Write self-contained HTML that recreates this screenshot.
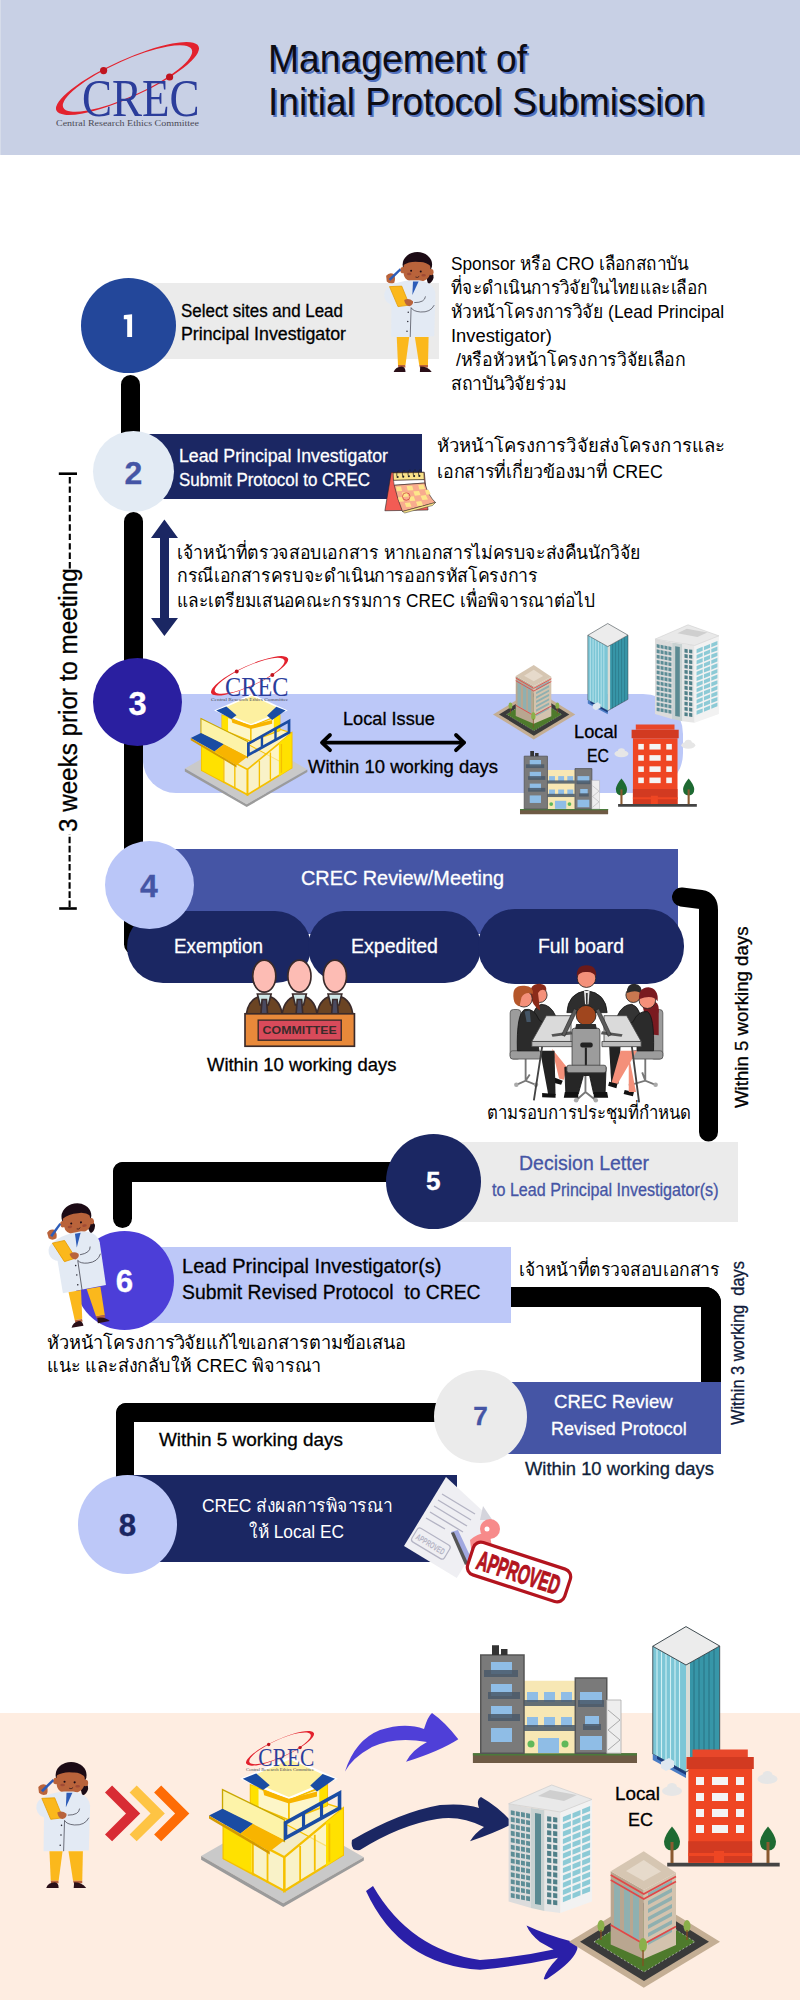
<!DOCTYPE html>
<html><head><meta charset="utf-8">
<style>
*{margin:0;padding:0;box-sizing:border-box}
html,body{width:800px;height:2000px;overflow:hidden;background:#fff}
body{position:relative;font-family:"Liberation Sans",sans-serif;color:#000}
.a{position:absolute}
.c{position:absolute;border-radius:50%}
.t{position:absolute;white-space:pre;transform-origin:0 0;-webkit-text-stroke:0.3px currentColor}
.bl{position:absolute;background:#000}
svg.s{position:absolute;overflow:visible}
</style></head><body>
<svg width="0" height="0" style="position:absolute">
<defs>
<symbol id="logo" viewBox="0 0 145 92" overflow="visible">
  <path fill="#e3222e" fill-rule="evenodd" transform="rotate(-24.3 71.5 38.5)" d="M-6.5 38.5 a78 18.9 0 1 0 156 0 a78 18.9 0 1 0 -156 0 Z M1 38.5 a70.5 17.9 0 1 0 141 0 a70.5 17.9 0 1 0 -141 0 Z"/>
  <text x="26" y="76" font-family="Liberation Serif" font-size="52" fill="#2b3d9b" textLength="117.6" lengthAdjust="spacingAndGlyphs">CREC</text>
  <circle cx="47.6" cy="30.6" r="3.6" fill="#c0141f"/>
  <circle cx="113.6" cy="37" r="3.6" fill="#c0141f"/>
  <text x="0" y="86" font-family="Liberation Serif" font-size="9" fill="#4a4a55" textLength="143" lengthAdjust="spacingAndGlyphs">Central Research Ethics Committee</text>
</symbol>
<symbol id="doc" viewBox="180 95 425 965" overflow="visible">
  <path d="M500 230 Q600 260 585 300 Q575 340 540 350 L525 290 Z" fill="#1c0b15"/>
  <ellipse cx="455" cy="195" rx="118" ry="100" fill="#1c0b15"/>
  <ellipse cx="340" cy="240" rx="22" ry="25" fill="#b9633b"/>
  <ellipse cx="565" cy="255" rx="20" ry="25" fill="#b9633b"/>
  <path d="M345 205 Q350 140 455 150 Q560 150 560 230 Q565 330 455 335 Q345 335 345 260 Z" fill="#b9633b"/>
  <path d="M340 200 Q360 120 455 120 Q560 120 570 215 Q520 170 470 175 Q400 165 340 200 Z" fill="#1c0b15"/>
  <circle cx="405" cy="245" r="8" fill="#1c0b15"/><circle cx="482" cy="250" r="8" fill="#1c0b15"/>
  <ellipse cx="390" cy="270" rx="18" ry="10" fill="#a04a35"/><ellipse cx="505" cy="280" rx="18" ry="10" fill="#a04a35"/>
  <path d="M440 295 Q455 305 470 290" stroke="#1c0b15" stroke-width="5" fill="none"/>
  <path d="M250 360 Q300 330 400 320 L470 320 Q590 340 600 430 L590 770 L245 775 Z" fill="#e3eaf4"/>
  <path d="M250 360 Q185 390 190 450 Q200 510 260 520 L300 470 Z" fill="#e3eaf4"/>
  <path d="M420 330 L465 330 L415 440 Z" fill="#2d5cb8"/>
  <path d="M205 285 Q230 255 265 270 Q285 300 270 340 Q235 355 210 330 Z" fill="#b9633b"/>
  <path d="M225 310 L315 225 L325 240 L240 325 Z" fill="#2d5cb8"/>
  <path d="M232 372 L330 368 L392 520 L300 532 Z" fill="#fbb81c" stroke="#e49a00" stroke-width="6"/>
  <path d="M350 480 Q385 460 420 490 Q425 520 390 530 Q355 525 350 480 Z" fill="#b9633b"/>
  <path d="M520 450 Q515 500 430 500 M590 520 Q560 580 480 575 Q420 570 405 540" stroke="#2a2a35" stroke-width="5" fill="none"/>
  <path d="M405 540 L398 775" stroke="#2a2a35" stroke-width="5"/>
  <circle cx="382" cy="578" r="6" fill="#2a2a35"/><circle cx="378" cy="652" r="6" fill="#2a2a35"/><circle cx="372" cy="730" r="6" fill="#2a2a35"/>
  <path d="M290 775 L390 775 L360 1000 L300 1000 Z" fill="#fbb81c"/>
  <path d="M435 775 L545 775 L540 1000 L470 1000 Z" fill="#fbb81c"/>
  <path d="M300 1000 L358 1000 L360 1020 L302 1020 Z M470 1000 L540 1000 L540 1020 L475 1020 Z" fill="#b9633b"/>
  <path d="M265 1055 Q280 1015 330 1012 Q360 1015 360 1055 Z" fill="#2a0f18"/>
  <path d="M475 1055 L478 1012 Q540 1012 570 1055 Z" fill="#2a0f18"/>
</symbol>
<symbol id="bldg" viewBox="0 165 730 655" overflow="visible">
  <path d="M5 605 L363 400 L728 610 L370 815 Z" fill="#c9c9c9"/>
  <path d="M5 605 L370 815 L728 610 L728 625 L370 832 L5 622 Z" fill="#9b9b9b"/>
  <path d="M105 615 L365 455 L635 600 L375 760 Z" fill="#f3ecc8"/>
  <path d="M105 615 L365 455 L365 310 L105 470 Z" fill="#fbf1b8" stroke="#f5c000" stroke-width="6"/>
  <path d="M365 455 L635 600 L635 395 L365 310 Z" fill="#fdf3c0" stroke="#f5c000" stroke-width="6"/>
  <path d="M105 470 L375 610 L375 760 L105 615 Z" fill="#fdf6c8" fill-opacity="0.6" stroke="#f5c000" stroke-width="10"/>
  <path d="M375 610 L635 395 L635 600 L375 760 Z" fill="#fdf6c8" fill-opacity="0.6" stroke="#f5c000" stroke-width="10"/>
  <path d="M105 470 L230 530 L230 680 L105 615 Z" fill="#ffe100"/>
  <path d="M560 455 L635 395 L635 600 L560 650 Z" fill="#ffe100"/>
  <path d="M235 540 L235 690 M300 575 L300 725 M445 560 L445 715 M510 510 L510 670 M575 460 L575 630" stroke="#f5c000" stroke-width="8"/>
  <path d="M225 290 L395 355 L395 445 L225 375 Z" fill="#fdf6c8" stroke="#f5c000" stroke-width="8"/>
  <path d="M395 355 L565 290 L565 380 L395 445 Z" fill="#fdf6c8" stroke="#f5c000" stroke-width="8"/>
  <path d="M225 290 L260 300 L260 390 L225 375 Z M530 300 L565 290 L565 380 L530 395 Z" fill="#ffe100"/>
  <path d="M190 262 L400 170 L600 262 L395 348 Z" fill="#fdf0a0" stroke="#ffffff" stroke-width="10"/>
  <path d="M190 262 L250 238 L310 290 L280 312 Z" fill="#1a4ca3"/>
  <path d="M490 292 L545 240 L600 262 L520 318 Z" fill="#1a4ca3"/>
  <path d="M280 312 L395 350 L395 372 L285 335 Z" fill="#f8b400"/>
  <path d="M395 350 L520 318 L520 340 L395 372 Z" fill="#f8b400"/>
  <path d="M100 310 L375 445 L375 540 L100 400 Z" fill="#fdf3a8" stroke="#c9a700" stroke-width="6"/>
  <path d="M40 425 L100 395 L235 462 L180 505 Z" fill="#1a4ca3"/>
  <path d="M180 505 L235 462 L375 535 L310 585 Z" fill="#f8b400"/>
  <path d="M40 425 L310 585 L310 598 L40 438 Z" fill="#d49a00"/>
  <path d="M380 458 L620 325 L620 392 L380 525 Z" fill="none" stroke="#1a4ca3" stroke-width="16"/>
  <path d="M460 415 L460 480 M540 370 L540 438" stroke="#1a4ca3" stroke-width="14"/>
</symbol>
</defs></svg>
<div class="a" style="left:0;top:0;width:800px;height:155px;background:#c8d0e5"></div>
<div class="a" style="left:0;top:0;width:1px;height:155px;background:#d6dcea"></div>
<svg class="s" style="left:56px;top:40px" width="145" height="92"><use href="#logo"/></svg>
<div class="t" style="left:268.0px;top:37.1px;font-size:38.52px;line-height:43.02px;color:#0d0d14;font-weight:normal;font-family:'Liberation Sans',sans-serif;transform:scaleX(0.9677);text-shadow:1.8px 2px 0 #5272c0;-webkit-text-stroke:0">Management of</div>
<div class="t" style="left:268.0px;top:80.1px;font-size:38.52px;line-height:43.02px;color:#0d0d14;font-weight:normal;font-family:'Liberation Sans',sans-serif;transform:scaleX(0.9674);text-shadow:1.8px 2px 0 #5272c0;-webkit-text-stroke:0">Initial Protocol Submission</div>
<div class="a" style="left:128px;top:283px;width:311px;height:76px;background:#ebebeb"></div>
<div class="c" style="left:81px;top:278px;width:95px;height:95px;background:#23479a"></div>
<svg class="s" style="left:0;top:0" width="200" height="400"><path d="M123.8 315.6 Q124 315.2 124.6 315.1 L132.1 314.2 L132.1 336.9 L127.2 336.9 L127.2 319.3 L123.8 319.3 Z" fill="#fff"/></svg>
<div class="t" style="left:181.0px;top:301.7px;font-size:17.44px;line-height:19.48px;color:#000;font-weight:normal;font-family:'Liberation Sans',sans-serif;transform:scaleX(0.9713);">Select sites and Lead</div>
<div class="t" style="left:181.0px;top:325.2px;font-size:17.44px;line-height:19.48px;color:#000;font-weight:normal;font-family:'Liberation Sans',sans-serif;transform:scaleX(1.0191);">Principal Investigator</div>
<svg class="s" style="left:382.5px;top:251.9px" width="53.1" height="120.6"><use href="#doc"/></svg>
<div class="t" style="left:450.5px;top:254.0px;font-size:18.29px;line-height:20.43px;color:#000;transform:scaleX(0.9433);-webkit-text-stroke:0;">Sponsor หรือ CRO เลือกสถาบัน</div>
<div class="t" style="left:450.5px;top:278.0px;font-size:18.29px;line-height:20.43px;color:#000;transform:scaleX(0.9387);-webkit-text-stroke:0;">ที่จะดำเนินการวิจัยในไทยและเลือก</div>
<div class="t" style="left:450.5px;top:302.0px;font-size:18.29px;line-height:20.43px;color:#000;transform:scaleX(0.9517);-webkit-text-stroke:0;">หัวหน้าโครงการวิจัย (Lead Principal</div>
<div class="t" style="left:450.5px;top:326.0px;font-size:18.29px;line-height:20.43px;color:#000;transform:scaleX(1.0037);-webkit-text-stroke:0;">Investigator)</div>
<div class="t" style="left:450.5px;top:350.0px;font-size:18.29px;line-height:20.43px;color:#000;transform:scaleX(0.9693);-webkit-text-stroke:0;"> /หรือหัวหน้าโครงการวิจัยเลือก</div>
<div class="t" style="left:450.5px;top:374.0px;font-size:18.29px;line-height:20.43px;color:#000;transform:scaleX(0.9619);-webkit-text-stroke:0;">สถาบันวิจัยร่วม</div>
<div class="bl" style="left:121px;top:375px;width:19px;height:70px;border-radius:10px 10px 0 0"></div>
<div class="a" style="left:133px;top:434px;width:289px;height:65px;background:#1b2763"></div>
<div class="c" style="left:93px;top:431px;width:81px;height:81px;background:#e3ebf4"></div>
<div class="t" style="left:124.6px;top:456.1px;font-size:31.98px;line-height:35.72px;color:#4555a5;font-weight:bold;font-family:'Liberation Sans',sans-serif;transform:scaleX(1.0000);">2</div>
<div class="t" style="left:179.0px;top:444.5px;font-size:18.90px;line-height:21.11px;color:#fff;font-weight:normal;font-family:'Liberation Sans',sans-serif;transform:scaleX(0.9386);">Lead Principal Investigator</div>
<div class="t" style="left:179.0px;top:469.2px;font-size:18.90px;line-height:21.11px;color:#fff;font-weight:normal;font-family:'Liberation Sans',sans-serif;transform:scaleX(0.8960);">Submit Protocol to CREC</div>
<div class="t" style="left:436.7px;top:436.4px;font-size:18.29px;line-height:20.43px;color:#000;transform:scaleX(1.0112);-webkit-text-stroke:0;">หัวหน้าโครงการวิจัยส่งโครงการและ</div>
<div class="t" style="left:436.7px;top:462.1px;font-size:18.29px;line-height:20.43px;color:#000;transform:scaleX(0.9740);-webkit-text-stroke:0;">เอกสารที่เกี่ยวข้องมาที่ CREC</div>
<div class="bl" style="left:124px;top:512px;width:19px;height:442px;border-radius:10px 10px 0 10px"></div>
<div class="t" style="left:177.0px;top:543.4px;font-size:18.29px;line-height:20.43px;color:#000;transform:scaleX(0.9647);-webkit-text-stroke:0;">เจ้าหน้าที่ตรวจสอบเอกสาร หากเอกสารไม่ครบจะส่งคืนนักวิจัย</div>
<div class="t" style="left:177.0px;top:566.4px;font-size:18.29px;line-height:20.43px;color:#000;transform:scaleX(0.9665);-webkit-text-stroke:0;">กรณีเอกสารครบจะดำเนินการออกรหัสโครงการ</div>
<div class="t" style="left:177.0px;top:591.4px;font-size:18.29px;line-height:20.43px;color:#000;transform:scaleX(0.9461);-webkit-text-stroke:0;">และเตรียมเสนอคณะกรรมการ CREC เพื่อพิจารณาต่อไป</div>
<div class="t" style="left:54.0px;top:832.4px;font-size:25.44px;line-height:28.41px;color:#000;transform-origin:0 0;transform:rotate(-90deg) scaleX(0.9513);">3 weeks prior to meeting</div>
<svg class="s" style="left:0;top:0" width="100" height="1000"><g fill="#000"><rect x="58.8" y="472.4" width="18.2" height="2.6"/><rect x="59.2" y="907.2" width="17.6" height="2.6"/></g><path d="M69.8 477 V569" stroke="#000" stroke-width="2.1" stroke-dasharray="6.4 3.05"/><path d="M69.6 907 V834" stroke="#000" stroke-width="2.1" stroke-dasharray="6.6 2.5"/></svg>
<div class="a" style="left:143px;top:694px;width:540px;height:99px;background:#bcc8f8;border-radius:0 40px 40px 33px"></div>
<div class="c" style="left:93px;top:658px;width:89px;height:88px;background:#2a1fa0"></div>
<div class="t" style="left:128.4px;top:685.7px;font-size:32.70px;line-height:36.53px;color:#fff;font-weight:bold;font-family:'Liberation Sans',sans-serif;transform:scaleX(1.0000);">3</div>
<svg class="s" style="left:184.4px;top:694.4px" width="123.7" height="111"><use href="#bldg"/></svg>
<svg class="s" style="left:211.4px;top:655px" width="78.3" height="49.7"><use href="#logo"/></svg>
<div class="t" style="left:342.6px;top:709.2px;font-size:18.60px;line-height:20.78px;color:#000;font-weight:normal;font-family:'Liberation Sans',sans-serif;transform:scaleX(0.9775);">Local Issue</div>
<div class="t" style="left:308.0px;top:758.2px;font-size:17.44px;line-height:19.48px;color:#000;font-weight:normal;font-family:'Liberation Sans',sans-serif;transform:scaleX(1.0594);">Within 10 working days</div>
<div class="t" style="left:574.0px;top:720.9px;font-size:18.90px;line-height:21.11px;color:#000;font-weight:normal;font-family:'Liberation Sans',sans-serif;transform:scaleX(0.9652);">Local</div>
<div class="t" style="left:587.0px;top:744.9px;font-size:18.90px;line-height:21.11px;color:#000;font-weight:normal;font-family:'Liberation Sans',sans-serif;transform:scaleX(0.8381);">EC</div>
<div class="a" style="left:149px;top:849px;width:529px;height:85px;background:#4555a5"></div>
<div class="a" style="left:127px;top:911px;width:184px;height:72px;background:#1b2763;border-radius:36px"></div>
<div class="a" style="left:308px;top:911px;width:173px;height:72px;background:#1b2763;border-radius:36px"></div>
<div class="a" style="left:478px;top:909px;width:206px;height:75px;background:#1b2763;border-radius:37px"></div>
<div class="c" style="left:105px;top:841px;width:89px;height:88px;background:#bac6f8"></div>
<div class="t" style="left:140.1px;top:868.6px;font-size:31.98px;line-height:35.72px;color:#4555a5;font-weight:bold;font-family:'Liberation Sans',sans-serif;transform:scaleX(1.0000);">4</div>
<div class="t" style="left:301.0px;top:867.8px;font-size:19.33px;line-height:21.59px;color:#fff;font-weight:normal;font-family:'Liberation Sans',sans-serif;transform:scaleX(1.0269);">CREC Review/Meeting</div>
<div class="t" style="left:174.0px;top:934.6px;font-size:20.35px;line-height:22.73px;color:#fff;font-weight:normal;font-family:'Liberation Sans',sans-serif;transform:scaleX(0.9257);">Exemption</div>
<div class="t" style="left:351.0px;top:934.6px;font-size:20.35px;line-height:22.73px;color:#fff;font-weight:normal;font-family:'Liberation Sans',sans-serif;transform:scaleX(0.9612);">Expedited</div>
<div class="t" style="left:538.0px;top:934.6px;font-size:20.35px;line-height:22.73px;color:#fff;font-weight:normal;font-family:'Liberation Sans',sans-serif;transform:scaleX(0.9504);">Full board</div>
<div class="t" style="left:206.5px;top:1055.4px;font-size:18.17px;line-height:20.29px;color:#000;font-weight:normal;font-family:'Liberation Sans',sans-serif;transform:scaleX(1.0144);">Within 10 working days</div>
<div class="t" style="left:487.0px;top:1102.9px;font-size:18.29px;line-height:20.43px;color:#000;transform:scaleX(0.9164);-webkit-text-stroke:0;">ตามรอบการประชุมที่กำหนด</div>
<div class="t" style="left:730.9px;top:1108.0px;font-size:18.90px;line-height:21.11px;color:#000;transform-origin:0 0;transform:rotate(-90deg) scaleX(0.9881);">Within 5 working days</div>
<div class="bl" style="left:113px;top:1162px;width:19px;height:66px;border-radius:10px"></div>
<div class="bl" style="left:113px;top:1162px;width:320px;height:20px;border-radius:10px 0 0 0"></div>
<svg class="s" style="left:0;top:0" width="800" height="1200"><path d="M681.5 897 L701 899.5 Q708.5 900.5 708.5 910 L708.5 1132" stroke="#000" stroke-width="19" fill="none" stroke-linecap="round" stroke-linejoin="round"/></svg>
<div class="a" style="left:433px;top:1142px;width:305px;height:80px;background:#ebebeb"></div>
<div class="c" style="left:386px;top:1134px;width:95px;height:95px;background:#1b2763"></div>
<div class="t" style="left:425.9px;top:1166.8px;font-size:26.16px;line-height:29.22px;color:#fff;font-weight:bold;font-family:'Liberation Sans',sans-serif;transform:scaleX(1.0000);">5</div>
<div class="t" style="left:519.0px;top:1151.9px;font-size:20.35px;line-height:22.73px;color:#4555a5;font-weight:normal;font-family:'Liberation Sans',sans-serif;transform:scaleX(0.9578);">Decision Letter</div>
<div class="t" style="left:492.3px;top:1180.5px;font-size:17.44px;line-height:19.48px;color:#4555a5;font-weight:normal;font-family:'Liberation Sans',sans-serif;transform:scaleX(0.9238);">to Lead Principal Investigator(s)</div>
<div class="bl" style="left:480px;top:1287px;width:241px;height:20px;border-radius:0 16px 0 0"></div>
<div class="bl" style="left:701px;top:1287px;width:20px;height:100px;border-radius:0 16px 0 0"></div>
<div class="a" style="left:124px;top:1247px;width:387px;height:76px;background:#bdc8f8"></div>
<div class="c" style="left:75px;top:1231px;width:99px;height:99px;background:#4c3ed8"></div>
<div class="t" style="left:115.8px;top:1264.7px;font-size:31.25px;line-height:34.91px;color:#fff;font-weight:bold;font-family:'Liberation Sans',sans-serif;transform:scaleX(1.0000);">6</div>
<div class="t" style="left:181.5px;top:1253.6px;font-size:21.08px;line-height:23.54px;color:#000;font-weight:normal;font-family:'Liberation Sans',sans-serif;transform:scaleX(0.9507);">Lead Principal Investigator(s)</div>
<div class="t" style="left:181.5px;top:1280.4px;font-size:21.08px;line-height:23.54px;color:#000;font-weight:normal;font-family:'Liberation Sans',sans-serif;transform:scaleX(0.9167);">Submit Revised Protocol  to CREC</div>
<svg class="s" style="left:49.5px;top:1203.5px;transform:rotate(-10deg);transform-origin:50% 50%" width="54" height="122.6"><use href="#doc"/></svg>
<div class="t" style="left:47.0px;top:1332.9px;font-size:18.29px;line-height:20.43px;color:#000;transform:scaleX(0.9963);-webkit-text-stroke:0;">หัวหน้าโครงการวิจัยแก้ไขเอกสารตามข้อเสนอ</div>
<div class="t" style="left:47.0px;top:1355.7px;font-size:18.29px;line-height:20.43px;color:#000;transform:scaleX(0.9823);-webkit-text-stroke:0;">แนะ และส่งกลับให้ CREC พิจารณา</div>
<div class="t" style="left:519.0px;top:1260.2px;font-size:18.29px;line-height:20.43px;color:#000;transform:scaleX(0.9600);-webkit-text-stroke:0;">เจ้าหน้าที่ตรวจสอบเอกสาร</div>
<div class="t" style="left:729.2px;top:1425.0px;font-size:17.44px;line-height:19.48px;color:#0f1a3a;transform-origin:0 0;transform:rotate(-90deg) scaleX(0.9399);">Within 3 working  days</div>
<div class="bl" style="left:116px;top:1403px;width:330px;height:19px;border-radius:10px 0 0 0"></div>
<div class="bl" style="left:116px;top:1403px;width:18px;height:80px;border-radius:10px 0 0 0"></div>
<div class="a" style="left:480px;top:1382px;width:241px;height:72px;background:#4555a5"></div>
<div class="c" style="left:434px;top:1370px;width:93px;height:93px;background:#ebebeb"></div>
<div class="t" style="left:473.2px;top:1401.6px;font-size:26.16px;line-height:29.22px;color:#4555a5;font-weight:bold;font-family:'Liberation Sans',sans-serif;transform:scaleX(1.0000);">7</div>
<div class="t" style="left:553.8px;top:1391.3px;font-size:19.26px;line-height:21.51px;color:#fff;font-weight:normal;font-family:'Liberation Sans',sans-serif;transform:scaleX(0.9649);">CREC Review</div>
<div class="t" style="left:551.2px;top:1418.1px;font-size:19.26px;line-height:21.51px;color:#fff;font-weight:normal;font-family:'Liberation Sans',sans-serif;transform:scaleX(0.9325);">Revised Protocol</div>
<div class="t" style="left:524.5px;top:1458.6px;font-size:18.17px;line-height:20.29px;color:#0f1f3a;font-weight:normal;font-family:'Liberation Sans',sans-serif;transform:scaleX(1.0117);">Within 10 working days</div>
<div class="t" style="left:158.5px;top:1430.4px;font-size:18.31px;line-height:20.46px;color:#000;font-weight:normal;font-family:'Liberation Sans',sans-serif;transform:scaleX(1.0330);">Within 5 working days</div>
<div class="a" style="left:127px;top:1475px;width:330px;height:87px;background:#1b2763"></div>
<div class="c" style="left:78px;top:1475px;width:99px;height:99px;background:#bdc8f8"></div>
<div class="t" style="left:118.8px;top:1508.9px;font-size:31.25px;line-height:34.91px;color:#1b2763;font-weight:bold;font-family:'Liberation Sans',sans-serif;transform:scaleX(1.0000);">8</div>
<div class="t" style="left:201.5px;top:1495.9px;font-size:18.29px;line-height:20.43px;color:#fff;transform:scaleX(0.9545);-webkit-text-stroke:0;">CREC ส่งผลการพิจารณา</div>
<div class="t" style="left:249.0px;top:1521.9px;font-size:18.29px;line-height:20.43px;color:#fff;transform:scaleX(0.9480);-webkit-text-stroke:0;">ให้ Local EC</div>
<div class="a" style="left:0;top:1713px;width:800px;height:287px;background:#feede1"></div>
<svg class="s" style="left:34.6px;top:1761.8px" width="55.8" height="126.6"><use href="#doc"/></svg>
<svg class="s" style="left:200px;top:1757.1px" width="164.3" height="147.4"><use href="#bldg"/></svg>
<svg class="s" style="left:245.5px;top:1730px" width="69" height="43.8"><use href="#logo"/></svg>
<div class="t" style="left:615.0px;top:1782.9px;font-size:18.90px;line-height:21.11px;color:#000;font-weight:normal;font-family:'Liberation Sans',sans-serif;transform:scaleX(0.9962);">Local</div>
<div class="t" style="left:627.5px;top:1808.9px;font-size:18.90px;line-height:21.11px;color:#000;font-weight:normal;font-family:'Liberation Sans',sans-serif;transform:scaleX(0.9524);">EC</div>
<svg class="s" style="left:0;top:0" width="800" height="2000" viewBox="0 0 800 2000">
<defs>
<g id="tealT">
  <path d="M652.75 1646.25 L686 1665 L686 1772 L652.75 1754 Z" fill="#7cc6d6"/>
  <path d="M686 1665 L719.7 1646 L719.7 1753 L686 1772 Z" fill="#3796a8"/>
  <g stroke="#d2f0f4" stroke-width="1.1">
    <path d="M657 1649 V1756 M661.5 1651.5 V1759 M666 1654 V1761.5 M670.5 1656.5 V1764 M675 1659 V1766.5 M679.5 1661.5 V1769"/>
  </g>
  <g stroke="#2a7686" stroke-width="1.1">
    <path d="M694 1661 V1768 M699 1658 V1765 M704 1655 V1762 M709 1652 V1759 M714 1649 V1756"/>
  </g>
  <path d="M686 1665 L690 1663 L690 1770 L686 1772 Z" fill="#d8dcd6"/>
  <path d="M686 1626.6 L652.75 1646.25 L686 1665 L719.7 1646 Z" fill="#ececec" stroke="#2e3a40" stroke-width="0.9"/>
  <path d="M652.75 1646.25 L652.75 1754 L686 1772 L719.7 1753 L719.7 1646" fill="none" stroke="#2e3a40" stroke-width="0.8"/>
  <path d="M652.75 1754 L686 1772 L686 1778 L652.75 1760 Z" fill="#4a7cc4"/>
  <path d="M657 1756 L686 1772 L686 1775 L657 1759 Z" fill="#1a3a7a"/>
  <path d="M661 1762 L669 1758 L674 1761 L674 1767 L666 1771 L661 1768 Z" fill="#dfe8f0"/>
</g>
<g id="whiteT">
<path d="M508.6 1803.75 L531 1808 L531 1908 L508.6 1901.5 Z" fill="#dcdcdc"/>
<path d="M531 1808 L544.6 1810 L544.6 1911 L531 1908 Z" fill="#c9d2d2"/>
<path d="M535 1813 L541 1814 L541 1905 L535 1904 Z" fill="#5b8a92"/>
<path d="M544.6 1810 L560.4 1812 L560.4 1913 L544.6 1911 Z" fill="#e6e6e6"/>
<path d="M560.4 1812 L592 1799.4 L592 1901.5 L560.4 1913 Z" fill="#f2f2f2"/>
<g transform="matrix(1,0.19,0,1,508.6,1803.75)" fill="#5d8d96">
<rect x="2.2" y="6.0" width="3.9" height="4.6"/>
<rect x="7.3" y="6.0" width="3.9" height="4.6"/>
<rect x="12.4" y="6.0" width="3.9" height="4.6"/>
<rect x="17.5" y="6.0" width="3.9" height="4.6"/>
<rect x="2.2" y="12.9" width="3.9" height="4.6"/>
<rect x="7.3" y="12.9" width="3.9" height="4.6"/>
<rect x="12.4" y="12.9" width="3.9" height="4.6"/>
<rect x="17.5" y="12.9" width="3.9" height="4.6"/>
<rect x="2.2" y="19.8" width="3.9" height="4.6"/>
<rect x="7.3" y="19.8" width="3.9" height="4.6"/>
<rect x="12.4" y="19.8" width="3.9" height="4.6"/>
<rect x="17.5" y="19.8" width="3.9" height="4.6"/>
<rect x="2.2" y="26.7" width="3.9" height="4.6"/>
<rect x="7.3" y="26.7" width="3.9" height="4.6"/>
<rect x="12.4" y="26.7" width="3.9" height="4.6"/>
<rect x="17.5" y="26.7" width="3.9" height="4.6"/>
<rect x="2.2" y="33.6" width="3.9" height="4.6"/>
<rect x="7.3" y="33.6" width="3.9" height="4.6"/>
<rect x="12.4" y="33.6" width="3.9" height="4.6"/>
<rect x="17.5" y="33.6" width="3.9" height="4.6"/>
<rect x="2.2" y="40.5" width="3.9" height="4.6"/>
<rect x="7.3" y="40.5" width="3.9" height="4.6"/>
<rect x="12.4" y="40.5" width="3.9" height="4.6"/>
<rect x="17.5" y="40.5" width="3.9" height="4.6"/>
<rect x="2.2" y="47.4" width="3.9" height="4.6"/>
<rect x="7.3" y="47.4" width="3.9" height="4.6"/>
<rect x="12.4" y="47.4" width="3.9" height="4.6"/>
<rect x="17.5" y="47.4" width="3.9" height="4.6"/>
<rect x="2.2" y="54.3" width="3.9" height="4.6"/>
<rect x="7.3" y="54.3" width="3.9" height="4.6"/>
<rect x="12.4" y="54.3" width="3.9" height="4.6"/>
<rect x="17.5" y="54.3" width="3.9" height="4.6"/>
<rect x="2.2" y="61.2" width="3.9" height="4.6"/>
<rect x="7.3" y="61.2" width="3.9" height="4.6"/>
<rect x="12.4" y="61.2" width="3.9" height="4.6"/>
<rect x="17.5" y="61.2" width="3.9" height="4.6"/>
<rect x="2.2" y="68.1" width="3.9" height="4.6"/>
<rect x="7.3" y="68.1" width="3.9" height="4.6"/>
<rect x="12.4" y="68.1" width="3.9" height="4.6"/>
<rect x="17.5" y="68.1" width="3.9" height="4.6"/>
<rect x="2.2" y="75.0" width="3.9" height="4.6"/>
<rect x="7.3" y="75.0" width="3.9" height="4.6"/>
<rect x="12.4" y="75.0" width="3.9" height="4.6"/>
<rect x="17.5" y="75.0" width="3.9" height="4.6"/>
<rect x="2.2" y="81.9" width="3.9" height="4.6"/>
<rect x="7.3" y="81.9" width="3.9" height="4.6"/>
<rect x="12.4" y="81.9" width="3.9" height="4.6"/>
<rect x="17.5" y="81.9" width="3.9" height="4.6"/>
<rect x="2.2" y="88.8" width="3.9" height="4.6"/>
<rect x="7.3" y="88.8" width="3.9" height="4.6"/>
<rect x="12.4" y="88.8" width="3.9" height="4.6"/>
<rect x="17.5" y="88.8" width="3.9" height="4.6"/>
</g>
<g transform="matrix(1,0.13,0,1,544.6,1810)" fill="#4f7f88">
<rect x="2.5" y="6.0" width="4.2" height="4.8"/>
<rect x="8.5" y="6.0" width="4.2" height="4.8"/>
<rect x="2.5" y="12.9" width="4.2" height="4.8"/>
<rect x="8.5" y="12.9" width="4.2" height="4.8"/>
<rect x="2.5" y="19.8" width="4.2" height="4.8"/>
<rect x="8.5" y="19.8" width="4.2" height="4.8"/>
<rect x="2.5" y="26.7" width="4.2" height="4.8"/>
<rect x="8.5" y="26.7" width="4.2" height="4.8"/>
<rect x="2.5" y="33.6" width="4.2" height="4.8"/>
<rect x="8.5" y="33.6" width="4.2" height="4.8"/>
<rect x="2.5" y="40.5" width="4.2" height="4.8"/>
<rect x="8.5" y="40.5" width="4.2" height="4.8"/>
<rect x="2.5" y="47.4" width="4.2" height="4.8"/>
<rect x="8.5" y="47.4" width="4.2" height="4.8"/>
<rect x="2.5" y="54.3" width="4.2" height="4.8"/>
<rect x="8.5" y="54.3" width="4.2" height="4.8"/>
<rect x="2.5" y="61.2" width="4.2" height="4.8"/>
<rect x="8.5" y="61.2" width="4.2" height="4.8"/>
<rect x="2.5" y="68.1" width="4.2" height="4.8"/>
<rect x="8.5" y="68.1" width="4.2" height="4.8"/>
<rect x="2.5" y="75.0" width="4.2" height="4.8"/>
<rect x="8.5" y="75.0" width="4.2" height="4.8"/>
<rect x="2.5" y="81.9" width="4.2" height="4.8"/>
<rect x="8.5" y="81.9" width="4.2" height="4.8"/>
<rect x="2.5" y="88.8" width="4.2" height="4.8"/>
<rect x="8.5" y="88.8" width="4.2" height="4.8"/>
</g>
<g transform="matrix(1,-0.4,0,1,560.4,1812)" fill="#8ccad6">
<rect x="2.5" y="6.0" width="8" height="5"/>
<rect x="12.1" y="6.0" width="8" height="5"/>
<rect x="21.7" y="6.0" width="8" height="5"/>
<rect x="2.5" y="13.3" width="8" height="5"/>
<rect x="12.1" y="13.3" width="8" height="5"/>
<rect x="21.7" y="13.3" width="8" height="5"/>
<rect x="2.5" y="20.6" width="8" height="5"/>
<rect x="12.1" y="20.6" width="8" height="5"/>
<rect x="21.7" y="20.6" width="8" height="5"/>
<rect x="2.5" y="27.9" width="8" height="5"/>
<rect x="12.1" y="27.9" width="8" height="5"/>
<rect x="21.7" y="27.9" width="8" height="5"/>
<rect x="2.5" y="35.2" width="8" height="5"/>
<rect x="12.1" y="35.2" width="8" height="5"/>
<rect x="21.7" y="35.2" width="8" height="5"/>
<rect x="2.5" y="42.5" width="8" height="5"/>
<rect x="12.1" y="42.5" width="8" height="5"/>
<rect x="21.7" y="42.5" width="8" height="5"/>
<rect x="2.5" y="49.8" width="8" height="5"/>
<rect x="12.1" y="49.8" width="8" height="5"/>
<rect x="21.7" y="49.8" width="8" height="5"/>
<rect x="2.5" y="57.1" width="8" height="5"/>
<rect x="12.1" y="57.1" width="8" height="5"/>
<rect x="21.7" y="57.1" width="8" height="5"/>
<rect x="2.5" y="64.4" width="8" height="5"/>
<rect x="12.1" y="64.4" width="8" height="5"/>
<rect x="21.7" y="64.4" width="8" height="5"/>
<rect x="2.5" y="71.7" width="8" height="5"/>
<rect x="12.1" y="71.7" width="8" height="5"/>
<rect x="21.7" y="71.7" width="8" height="5"/>
<rect x="2.5" y="79.0" width="8" height="5"/>
<rect x="12.1" y="79.0" width="8" height="5"/>
<rect x="21.7" y="79.0" width="8" height="5"/>
<rect x="2.5" y="86.3" width="8" height="5"/>
<rect x="12.1" y="86.3" width="8" height="5"/>
<rect x="21.7" y="86.3" width="8" height="5"/>
</g>
<path d="M508.6 1803.75 L551.75 1785 L592 1799.4 L560.4 1812 Z" fill="#e9e9e9" stroke="#d0d0d0" stroke-width="0.8"/>
<path d="M550 1790 L577 1795 L564 1801 L538 1796 Z" fill="#cfcfcf"/></g>
<g id="brownI">
  <path d="M569 1941.8 L645.25 1895.8 L720 1941.8 L643.75 1987.8 Z" fill="#c4ae94"/>
  <path d="M580 1941.8 L645 1902 L709 1941.8 L644 1981 Z" fill="#3a3a3a"/>
  <path d="M594 1941.8 L645 1910 L695 1941.8 L644 1972 Z" fill="#4e7a2c" stroke="#dddddd" stroke-width="0.6" stroke-dasharray="2 2"/>
  <path d="M610.7 1871.3 L643.75 1890 L643.75 1959 L610.7 1944.6 Z" fill="#b9a690"/>
  <path d="M643.75 1890 L676 1872.75 L676 1945 L643.75 1959 Z" fill="#d3c3ae"/>
  <g fill="#8fb0b0">
    <path d="M614 1880 L620 1883 L620 1930 L614 1927 Z"/><path d="M624 1885 L630 1888 L630 1935 L624 1932 Z"/><path d="M633 1890 L639 1893 L639 1940 L633 1937 Z"/>
    <path d="M648 1893 L672 1880 L672 1884 L648 1897 Z"/><path d="M648 1901 L672 1888 L672 1892 L648 1905 Z"/><path d="M648 1909 L672 1896 L672 1900 L648 1913 Z"/><path d="M648 1917 L672 1904 L672 1908 L648 1921 Z"/><path d="M648 1925 L672 1912 L672 1916 L648 1929 Z"/><path d="M648 1933 L672 1920 L672 1924 L648 1937 Z"/><path d="M648 1941 L672 1928 L672 1932 L648 1945 Z"/>
  </g>
  <path d="M610.7 1875 L643.75 1894 L676 1876.5 M610.7 1880 L643.75 1899 L676 1881.5 M610.7 1925 L643.75 1944 L676 1926.5" stroke="#e04848" stroke-width="1.6" fill="none"/>
  <path d="M643.75 1851.2 L610.7 1871.3 L643.75 1890 L676 1872.75 Z" fill="#d6c6b2"/>
  <path d="M643.75 1860 L626 1871 L643.75 1881 L661 1871.5 Z" fill="#e6dacb"/>
  <g fill="#8ab04a"><ellipse cx="601" cy="1926" rx="3.5" ry="6"/><ellipse cx="687" cy="1926" rx="3.5" ry="6"/><ellipse cx="643" cy="1945" rx="4" ry="7"/></g>
  <g stroke="#8a4a20" stroke-width="1.2"><path d="M601 1930 V1940 M687 1930 V1940 M643 1950 V1966"/></g>
</g>
<g id="redB">
  <path d="M667.2 1862.8 H779.7 V1866.6 H667.2 Z" fill="#444"/>
  <path d="M688.4 1769 H752.1 V1862.8 H688.4 Z" fill="#ef4623"/>
  <path d="M688.4 1841.3 H752.1 V1862.8 H688.4 Z" fill="#d23a21"/>
  <path d="M688.4 1853 H752.1 V1856 H688.4 Z" fill="#ef4623"/>
  <path d="M714 1851 H724 V1862.8 H714 Z" fill="#ef4623"/>
  <path d="M686.5 1756.9 H753.8 V1769 H686.5 Z" fill="#d23a21"/>
  <path d="M692.5 1749.4 H747.8 V1756.9 H692.5 Z" fill="#e8472a"/>
  <g fill="#f4f4f4">
    <rect x="696" y="1777" width="8" height="8"/><rect x="712" y="1777" width="16" height="8"/><rect x="736" y="1777" width="8" height="8"/>
    <rect x="696" y="1793" width="8" height="8"/><rect x="712" y="1793" width="16" height="8"/><rect x="736" y="1793" width="8" height="8"/>
    <rect x="696" y="1809" width="8" height="8"/><rect x="712" y="1809" width="16" height="8"/><rect x="736" y="1809" width="8" height="8"/>
    <rect x="696" y="1825" width="8" height="8"/><rect x="712" y="1825" width="16" height="8"/><rect x="736" y="1825" width="8" height="8"/>
  </g>
  <g fill="#1e6a32"><path d="M672 1826.5 Q679 1834.5 680 1841.5 Q680 1850.5 672 1850.5 Q664 1850.5 664 1841.5 Q665 1834.5 672 1826.5 Z"/><path d="M768 1826.5 Q775 1834.5 776 1841.5 Q776 1850.5 768 1850.5 Q760 1850.5 760 1841.5 Q761 1834.5 768 1826.5 Z"/></g>
  <g fill="#8a5a30"><rect x="670.5" y="1842" width="3" height="21"/><rect x="766.5" y="1842" width="3" height="21"/></g>
  <g fill="#e6e6e6"><ellipse cx="672" cy="1791" rx="10" ry="5"/><ellipse cx="672" cy="1787" rx="5" ry="4"/><ellipse cx="767.5" cy="1779" rx="10" ry="5"/><ellipse cx="767.5" cy="1775" rx="5" ry="4"/></g>
</g>
<g id="apt">
  <path d="M472.9 1753.2 H637 V1762.9 H472.9 Z" fill="#6e5a44"/>
  <path d="M472.9 1753.2 H637 V1755.5 H472.9 Z" fill="#4a7a3a"/>
  <path d="M524 1680.75 H575.3 V1753.2 H524 Z" fill="#f7e7b4"/>
  <path d="M480.75 1654.9 H524 V1753.2 H480.75 Z" fill="#7a7a7a" stroke="#555" stroke-width="1.5"/>
  <path d="M575.3 1678 H606.75 V1753.2 H575.3 Z" fill="#7a7a7a" stroke="#555" stroke-width="1.5"/>
  <path d="M606.75 1700 H621 V1753.2 H606.75 Z" fill="#eeeeee" stroke="#aaa" stroke-width="0.8"/>
  <path d="M608 1710 L620 1720 L608 1730 L620 1740 L608 1750" stroke="#999" stroke-width="0.8" fill="none"/>
  <path d="M492 1645.2 H499 V1654.9 H492 Z M501 1649 H507.5 V1654.9 H501 Z" fill="#333"/>
  <g fill="#8fbde6">
    <rect x="491" y="1662" width="21" height="12"/><rect x="491" y="1684" width="21" height="12"/><rect x="491" y="1706" width="21" height="12"/><rect x="491" y="1728" width="21" height="14"/>
    <rect x="527" y="1692" width="11" height="10"/><rect x="544" y="1692" width="11" height="10"/><rect x="561" y="1692" width="11" height="10"/>
    <rect x="527" y="1717" width="11" height="10"/><rect x="544" y="1717" width="11" height="10"/><rect x="561" y="1717" width="11" height="10"/>
    <rect x="538" y="1738" width="21" height="15"/>
    <rect x="580" y="1692" width="22" height="12"/><rect x="585" y="1716" width="14" height="10"/><rect x="580" y="1736" width="22" height="14"/>
  </g>
  <g fill="#4a5a6a" opacity="0.85">
    <rect x="484" y="1670" width="34" height="7"/><rect x="488" y="1692" width="32" height="7"/><rect x="488" y="1714" width="32" height="7"/>
    <rect x="524" y="1700" width="51" height="6"/><rect x="524" y="1725" width="51" height="6"/>
    <rect x="578" y="1700" width="26" height="7"/><rect x="583" y="1724" width="18" height="6"/>
  </g>
  <g fill="#5fb85a"><circle cx="531" cy="1744" r="3.5"/><circle cx="565" cy="1744" r="3.5"/></g>
</g>
<g id="chev"><path d="M0 6.9 L7.1 0 L35.25 27.9 L7.1 55.65 L0 48.8 L21 27.9 Z"/></g>
</defs>

<!-- calendar -->
<g transform="translate(380 465) scale(0.075)">
  <path d="M150 100 L590 95 L640 600 L65 610 Z" fill="#f25c54" stroke="#222" stroke-width="8"/>
  <path d="M175 105 L585 100 L590 195 L180 205 Z" fill="#fbe38a" stroke="#222" stroke-width="8"/>
  <path d="M180 205 L590 195 L595 240 L190 270 Z" fill="#ffffff" stroke="#222" stroke-width="6"/>
  <path d="M190 270 L595 240 Q650 420 740 500 L300 620 Q230 450 190 270 Z" fill="#f8ac8e" stroke="#222" stroke-width="8"/>
  <g fill="#fde68a">
    <path d="M215 290 L280 285 L295 345 L225 350 Z"/><path d="M355 280 L430 275 L445 335 L370 340 Z"/><path d="M510 265 L580 260 L600 320 L525 325 Z"/>
    <path d="M290 365 L360 360 L380 420 L305 425 Z"/><path d="M445 350 L520 345 L540 400 L465 410 Z"/><path d="M600 335 L650 330 L675 390 L620 395 Z"/>
    <path d="M240 430 L300 425 L320 485 L255 490 Z"/><path d="M380 420 L450 415 L470 475 L400 480 Z"/><path d="M540 410 L610 400 L640 460 L565 465 Z"/>
    <path d="M330 505 L400 500 L420 555 L350 560 Z"/><path d="M480 490 L550 480 L575 540 L500 545 Z"/>
  </g>
  <path d="M300 620 L740 500 L700 540 L330 640 Z" fill="#fde68a" stroke="#222" stroke-width="6"/>
  <ellipse cx="350" cy="420" rx="50" ry="50" fill="none" stroke="#d04040" stroke-width="10"/>
  <g fill="#222"><circle cx="235" cy="160" r="14"/><circle cx="310" cy="155" r="14"/><circle cx="385" cy="150" r="14"/><circle cx="455" cy="148" r="14"/><circle cx="525" cy="145" r="14"/></g>
  <g stroke="#222" stroke-width="10" fill="none"><path d="M225 150 Q215 70 260 80 M300 145 Q290 65 335 75 M375 140 Q365 60 410 70 M445 138 Q435 58 480 68 M515 135 Q505 55 550 65"/></g>
</g>

<!-- vertical double arrow -->
<path d="M164.4 519.6 L178 538 L169 538 L169 618 L178 618 L164.4 636 L151 618 L160 618 L160 538 L151 538 Z" fill="#1b2763"/>
<!-- horizontal double arrow -->
<path d="M323 742.6 H464" stroke="#000" stroke-width="3.6" stroke-linecap="round"/>
<path d="M330 735 L322 742.6 L330 750.2 M456 735 L464 742.6 L456 750.2" stroke="#000" stroke-width="3.8" fill="none" stroke-linecap="round" stroke-linejoin="round"/>

<!-- step 3 cluster -->
<use href="#brownI" transform="translate(182.9 -343.9) scale(0.545)"/>
<use href="#tealT" transform="translate(196.15 -352.45) scale(0.6)"/>
<use href="#whiteT" transform="translate(265.4 -742.5) scale(0.766)"/>
<use href="#redB" transform="translate(151.05 -499.96) scale(0.7)"/>
<use href="#apt" transform="translate(266.05 -132.5) scale(0.537)"/>

<!-- committee -->
<g transform="translate(190 950) scale(0.275)" stroke="#3a2a2a" stroke-width="6">
  <path d="M205 232 Q215 170 270 165 Q325 170 335 232 Z" fill="#6b4423"/>
  <path d="M335 232 Q345 170 398 165 Q452 170 462 232 Z" fill="#6b4423"/>
  <path d="M462 232 Q472 170 527 165 Q582 170 592 232 Z" fill="#6b4423"/>
  <g fill="#cfe6e6"><path d="M245 160 L295 160 L285 200 L255 200 Z"/><path d="M373 160 L423 160 L413 200 L383 200 Z"/><path d="M502 160 L552 160 L542 200 L512 200 Z"/></g>
  <g fill="#4a4a60"><path d="M262 180 L278 180 L282 232 L258 232 Z"/><path d="M390 180 L406 180 L410 232 L386 232 Z"/><path d="M519 180 L535 180 L539 232 L515 232 Z"/></g>
  <g fill="#fdbcb4"><ellipse cx="270" cy="95" rx="42" ry="58"/><ellipse cx="398" cy="95" rx="42" ry="58"/><ellipse cx="527" cy="95" rx="42" ry="58"/></g>
  <rect x="200" y="232" width="398" height="118" fill="#e8893a"/>
  <rect x="248" y="255" width="302" height="73" fill="#d84a5a" stroke-width="5"/>
  <text x="399" y="306" text-anchor="middle" font-family="Liberation Sans" font-weight="bold" font-size="40" fill="#3a2a2a" stroke="none" textLength="270" lengthAdjust="spacingAndGlyphs">COMMITTEE</text>
</g>

<!-- meeting -->
<g transform="translate(505 960) scale(0.2063)">
  <g stroke="#777" stroke-width="9" fill="none">
    <path d="M100 480 V585 M55 605 L100 585 L150 605 M100 585 L120 555"/>
    <path d="M680 480 V585 M610 605 L680 585 L730 605 M680 585 L665 545"/>
    <path d="M390 545 V640 M345 680 L390 640 L440 680"/>
  </g>
  <g fill="#aaa"><circle cx="55" cy="605" r="11"/><circle cx="150" cy="605" r="11"/><circle cx="610" cy="605" r="11"/><circle cx="730" cy="605" r="11"/><circle cx="345" cy="680" r="11"/><circle cx="440" cy="680" r="11"/></g>
  <g fill="#9c9c9c" stroke="#555" stroke-width="4">
    <rect x="25" y="240" width="52" height="240" rx="16"/><rect x="25" y="440" width="150" height="40" rx="12"/>
    <rect x="705" y="240" width="60" height="240" rx="16"/><rect x="615" y="440" width="150" height="40" rx="12"/>
  </g>
  <!-- back person -->
  <path d="M300 255 Q305 160 395 148 Q490 160 495 255 Z" fill="#2e2e2e" stroke="#151515" stroke-width="4"/>
  <path d="M383 150 L410 150 L405 215 L388 215 Z" fill="#e8e8e8"/>
  <path d="M392 160 L401 160 L400 215 L393 215 Z" fill="#333"/>
  <circle cx="395" cy="88" r="45" fill="#f4907a" stroke="#222" stroke-width="4"/>
  <path d="M348 80 Q345 25 395 25 Q445 25 442 80 Q425 55 395 58 Q365 55 348 80 Z" fill="#6b1a1a"/>
  <!-- left person 2 (woman behind) -->
  <path d="M130 340 Q125 230 175 215 Q220 215 245 270 L290 320 L275 345 L200 330 Z" fill="#343434" stroke="#151515" stroke-width="4"/>
  <path d="M228 430 L300 520 L285 580 L262 575 Z" fill="#f4907a"/>
  <path d="M240 570 L280 585 L272 605 L235 595 Z" fill="#111"/>
  <circle cx="168" cy="170" r="36" fill="#f4907a" stroke="#222" stroke-width="4"/>
  <path d="M125 175 Q115 115 168 115 Q205 118 200 150 Q175 135 160 160 L170 245 Q130 220 125 175 Z" fill="#8b2b1a"/>
  <!-- left person 1 (man) -->
  <path d="M60 440 Q55 260 95 240 Q140 230 165 290 L240 340 L230 375 L150 355 L165 440 Z" fill="#2b2b2b" stroke="#151515" stroke-width="4"/>
  <path d="M95 250 L120 245 L125 300 L105 300 Z" fill="#445566"/>
  <path d="M170 440 L240 440 L245 655 L210 655 Z" fill="#222"/>
  <path d="M180 645 L245 650 L245 668 L180 665 Z" fill="#111"/>
  <circle cx="92" cy="188" r="40" fill="#f4907a" stroke="#222" stroke-width="4"/>
  <path d="M42 190 Q30 120 95 125 Q140 128 135 165 Q100 150 80 180 L70 225 Q45 215 42 190 Z" fill="#b5562a"/>
  <!-- right person 1 (man dark) -->
  <path d="M660 340 Q665 230 615 215 Q570 215 545 270 L505 320 L520 345 L590 330 Z" fill="#343434" stroke="#151515" stroke-width="4"/>
  <path d="M505 420 L560 420 L550 600 L515 600 Z" fill="#222"/>
  <circle cx="622" cy="170" r="36" fill="#c87850" stroke="#222" stroke-width="4"/>
  <path d="M590 160 Q590 115 628 115 Q668 120 662 165 Q640 140 590 160 Z" fill="#2a2a2a"/>
  <!-- right person 2 (woman red hair) -->
  <path d="M665 215 Q755 170 745 260 L745 365 L700 360 Z" fill="#7a1a20"/>
  <path d="M720 440 Q725 270 690 250 Q645 245 620 300 L545 350 L560 380 L640 360 L640 440 Z" fill="#2b2b2b" stroke="#151515" stroke-width="4"/>
  <path d="M640 440 L560 440 L515 600 L540 610 Z" fill="#f4907a"/>
  <path d="M505 590 L545 600 L540 622 L500 610 Z M580 630 L625 640 L620 660 L575 650 Z" fill="#111"/>
  <path d="M600 460 L635 640 L600 640 Z" fill="#f4907a"/>
  <circle cx="690" cy="195" r="40" fill="#f4907a" stroke="#222" stroke-width="4"/>
  <path d="M650 190 Q645 135 695 132 Q745 138 740 200 Q715 165 650 190 Z" fill="#7a1a20"/>
  <!-- tables -->
  <path d="M200 270 L320 270 L320 395 L130 395 Z" fill="#dadada" stroke="#444" stroke-width="4"/>
  <path d="M480 270 L590 270 L660 395 L480 395 Z" fill="#dadada" stroke="#444" stroke-width="4"/>
  <path d="M130 395 L330 395 L330 420 L130 420 Z M470 395 L660 395 L660 420 L470 420 Z" fill="#bbbbbb" stroke="#444" stroke-width="4"/>
  <path d="M180 420 L140 680 M615 420 L650 690" stroke="#444" stroke-width="9"/>
  <path d="M225 360 L320 345 L330 360 L230 372 Z M470 345 L570 360 L565 372 L465 360 Z" fill="#555"/>
  <!-- laptops -->
  <path d="M335 235 L350 245 L290 370 L275 362 Z M455 235 L440 245 L500 370 L515 362 Z" fill="#5a5a5a" stroke="#222" stroke-width="3"/>
  <!-- front person -->
  <path d="M290 520 L490 520 L485 650 L430 650 L410 560 L380 560 L355 650 L295 650 Z" fill="#262626" stroke="#111" stroke-width="4"/>
  <path d="M290 640 L355 640 L355 668 L285 668 Z M430 640 L495 640 L500 668 L430 668 Z" fill="#111"/>
  <rect x="325" y="330" width="135" height="190" rx="14" fill="#9c9c9c" stroke="#444" stroke-width="4"/>
  <rect x="365" y="400" width="60" height="24" rx="10" fill="#222"/>
  <path d="M392 424 V520" stroke="#222" stroke-width="10"/>
  <rect x="300" y="510" width="190" height="36" rx="10" fill="#9c9c9c" stroke="#444" stroke-width="4"/>
  <circle cx="393" cy="268" r="48" fill="#a0461e" stroke="#222" stroke-width="4"/>
  <path d="M345 310 L440 310 L445 335 L340 335 Z" fill="#2e2e2e"/>
</g>

<!-- approved -->
<g>
  <path d="M446 1477 L492.4 1520 L456.8 1578 L404 1546 Z" fill="#efeff3"/>
  <path d="M483 1506 L492.4 1520 L480 1520 Z" fill="#d4d4dc"/>
  <g stroke="#b4b4c4" stroke-width="1.4"><path d="M442 1494 L475 1514 M438 1500 L471 1520 M434 1506 L467 1526 M430 1512 L463 1532 M426 1518 L445 1529"/></g>
  <g transform="rotate(31 430 1543)"><rect x="412" y="1535" width="38" height="16" rx="3" fill="none" stroke="#b4b4c4" stroke-width="1.2"/><text x="431" y="1547" text-anchor="middle" font-family="Liberation Sans" font-weight="bold" font-size="9" fill="#b4b4c4" textLength="32" lengthAdjust="spacingAndGlyphs">APPROVED</text></g>
  <circle cx="490" cy="1529" r="10" fill="#f78a8a"/>
  <path d="M470 1540 Q482 1530 490 1535 L492 1548 L472 1556 Z" fill="#f78a8a"/>
  <circle cx="487" cy="1529" r="2.5" fill="#fff"/>
  <path d="M451 1532 L458 1530 L472 1560 L466 1565 Z" fill="#a0a8e0"/>
  <path d="M451 1533 L454 1532 L468 1563 L465 1565 Z" fill="#555"/>
  <g transform="rotate(18 519 1572)">
    <rect x="468" y="1555" width="102" height="34" rx="8" fill="#fff" stroke="#b3141e" stroke-width="3.2"/>
    <text x="519" y="1582" text-anchor="middle" font-family="Liberation Sans" font-weight="bold" font-size="27" fill="#b3141e" stroke="#b3141e" stroke-width="1" textLength="86" lengthAdjust="spacingAndGlyphs">APPROVED</text>
  </g>
</g>

<!-- bottom: chevrons -->
<g transform="translate(105 1785.6)">
  <use href="#chev" fill="#d82c34"/>
  <use href="#chev" fill="#fec444" transform="translate(24.6 0)"/>
  <use href="#chev" fill="#fe6c05" transform="translate(49.1 0)"/>
</g>

<!-- bottom arrows -->
<path d="M345 1771.5 Q355 1740 380 1730 Q405 1722 424 1729 Q428 1716 432 1713 Q445 1722 458.3 1739.2 Q440 1751 406 1761.8 Q412 1750 427 1742 Q395 1736 372 1747 Q352 1758 345 1771.5 Z" fill="#4f3fd8"/>
<path d="M352 1840 Q400 1812 440 1805 Q465 1803 479 1808 Q476 1800 481 1797 Q500 1808 513 1823.5 Q495 1833 470 1841.3 Q475 1833 484 1827 Q460 1815 437 1819 Q400 1825 360 1850 Q350 1852 352 1840 Z" fill="#1b2763"/>
<path d="M373 1886 Q410 1950 480 1960 Q520 1957 553.5 1949.5 L540 1942 Q530 1934 526.5 1925.5 Q547 1935 570 1941 Q580 1944 576.5 1951 Q572 1962 550.5 1976.5 Q545 1981 543.75 1978.75 Q546 1970 558 1957.75 Q520 1966 480 1969.75 Q400 1965 366 1891 Z" fill="#2a1fa8"/>

<!-- bottom buildings -->
<use href="#apt"/>
<use href="#tealT"/>
<use href="#redB"/>
<use href="#whiteT"/>
<use href="#brownI"/>
</svg>

</body></html>
